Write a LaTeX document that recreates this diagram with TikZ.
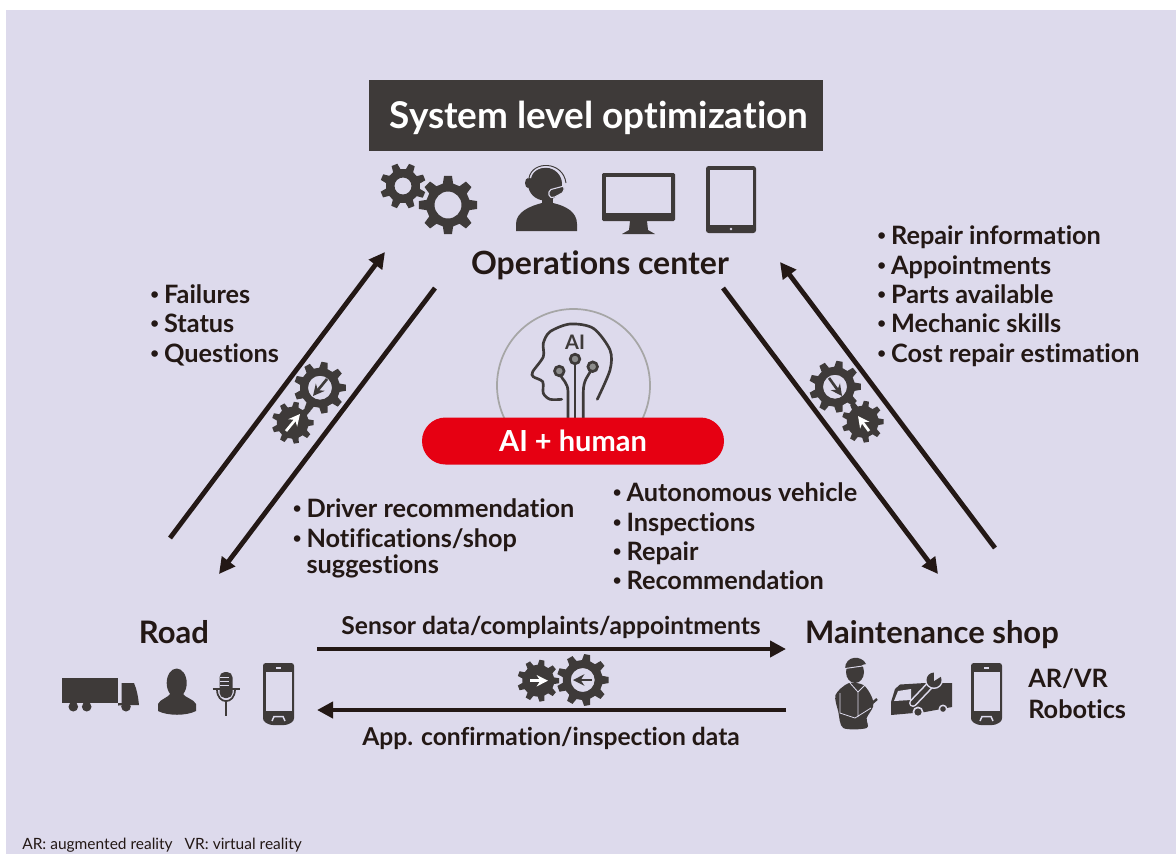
\documentclass[tikz,border=0pt]{standalone}
\usepackage{fontspec}
\usepackage{xcolor}
\usetikzlibrary{arrows.meta,positioning}
\setmainfont{Lato}[Ligatures=NoCommon]
\definecolor{lilacbg}{HTML}{DDDAEC}
\definecolor{icongrey}{HTML}{3E3A39}
\definecolor{flowblack}{HTML}{231815}
\definecolor{pillred}{HTML}{E60012}
\newlength{\pxu}
\setlength{\pxu}{0.75pt}
\newcommand{\blt}{\makebox[13.8\pxu][l]{\raisebox{3.5\pxu}{\fontsize{15\pxu}{15\pxu}\selectfont\textbullet}}}
\newcommand{\pxfont}[1]{\fontsize{#1\pxu}{1.2\dimexpr#1\pxu\relax}\selectfont}
% turn, centre, outer radius, root radius, hole radius, teeth
\newcommand{\gearat}[6][0]{%
    \pgfmathsetmacro{\gstep}{360/#6}
    \fill[icongrey, even odd rule, shift={(#2)}, rotate=#1] ({-0.30*\gstep}:#4)
        \foreach \k in {0,...,\numexpr#6-1\relax} {
            -- ({(\k-0.30)*\gstep}:#4) -- ({(\k-0.17)*\gstep}:#3)
            -- ({(\k+0.17)*\gstep}:#3) -- ({(\k+0.30)*\gstep}:#4)
        } -- cycle (0,0) circle[radius=#5];
}
% top left corner of the phone
\newcommand{\phoneat}[1]{%
    \begin{scope}[shift={(#1)}]
        \fill[icongrey, rounded corners=2pt] (0,0) -- (31,0) -- (31,58) -- (24,62) -- (7,62) -- (0,58) -- cycle;
        \fill[lilacbg] (2.7,9) rectangle (29.3,48);
        \fill[lilacbg] (12.5,4) rectangle (18,6.2);
        \draw[lilacbg, line width=1.1pt] (9,58) -- (11,53.5) -- (20,53.5) -- (22,58);
    \end{scope}
}
\tikzset{
    lbl/.style={anchor=west, inner sep=0pt, text=flowblack, text height=20\pxu, text depth=2\pxu, font=\pxfont{25.3}\bfseries},
    mid/.style={lbl, anchor=center},
    flow/.style={color=flowblack, line width=3.6pt, -{Triangle[length=12pt,width=12pt]}},
    innerarrow/.style={icongrey, line width=2pt, -{Stealth[length=8.5pt,width=8.5pt]}},
    whitearrow/.style={innerarrow, white},
    wire/.style={icongrey, line width=2pt},
}

\begin{document}
\begin{tikzpicture}[x=0.75pt, y=-0.75pt]
    \useasboundingbox (0,0) rectangle (1176,854);
    \fill[lilacbg] (6,10) rectangle (1176,854);

    % top
    \node[fill=icongrey, text=white, minimum width=340.5pt, minimum height=53.25pt, inner sep=0pt, text height=32\pxu, text depth=7\pxu, font=\pxfont{36.9}\bfseries] (sysopt) at (596,115.5) {\hspace*{6\pxu}System level optimization};
    \gearat[22]{403,186}{23}{17}{8.5}{8}
    \gearat{448,205}{29.5}{22}{13.5}{8}

    % operator
    \fill[icongrey] (516,231) -- (516,224) .. controls (516,212) and (530,206) .. (542,203) -- (553,203) .. controls (566,206) and (577,212) .. (577,224) -- (577,231) -- cycle;
    \fill[icongrey] (542,195) rectangle (553,206);
    \fill[icongrey] (545,184) ellipse[x radius=17, y radius=16.5];
    \draw[lilacbg, line width=1.6pt] (530,178) .. controls (533,162) and (562,162) .. (565,183);
    \draw[icongrey, line width=0.7pt] (529,178) .. controls (532,160.5) and (563,160.5) .. (566,183);
    \fill[icongrey] (528,183) ellipse[x radius=3, y radius=5];
    \fill[icongrey, draw=lilacbg, line width=0.8pt, rounded corners=1.5pt] (549,190) -- (564,186) -- (564,192) -- (553,198) -- (549,197) -- cycle;

    % monitor
    \fill[icongrey, rounded corners=1pt] (602,173) rectangle (675,221);
    \fill[lilacbg] (606,177) rectangle (671,213);
    \fill[icongrey] (630,221) -- (647,221) -- (648,230) -- (655,234) -- (622,234) -- (629,230) -- cycle;

    % tablet
    \fill[icongrey, rounded corners=2pt] (706,166) rectangle (756,233);
    \fill[lilacbg] (709.5,170) rectangle (753,225);
    \fill[lilacbg] (731,229) circle[radius=1.3];

    \node[mid, font=\pxfont{32}\bfseries] (opscenter) at (600,265) {Operations center};

    % ai head
    \draw[color=black!35, line width=1.3pt] (573.5,385.5) circle[radius=76.5];
    \draw[wire, line cap=round] plot[smooth] coordinates {
            (597.3,399.3) (610,370) (610,350) (593.3,328.3) (570,324) (550,331.7)
            (543.3,343.3) (543.3,356.7) (532.7,371.7) (533.3,376.7) (542.7,381.7)
            (543.3,393.3) (550,399.3) (561.7,399.3)
    };
    \draw[wire] (575,420) -- (575,362);
    \draw[wire] (568,420) -- (568,392) .. controls (568,382) and (562,380) .. (560,374);
    \draw[wire] (583.3,420) -- (583.3,392) .. controls (583.3,380) and (588,376) .. (592,369);
    \foreach \cx/\cy in {575/359, 559.3/371, 592.7/366.7} {
        \draw[wire, fill=black!45] (\cx,\cy) circle[radius=4.8];
    }
    \node[mid, text=icongrey, font=\pxfont{20}\bfseries] (ailabel) at (575,340) {AI};
    \node[fill=pillred, text=white, rounded corners=17.6pt, minimum width=226.5pt, minimum height=35.25pt, inner sep=0pt, font=\pxfont{29}\bfseries] (aihuman) at (573,441) {AI + human};

    % lists
    \node[lbl] (failures) at (150,294) {\blt Failures};
    \node[lbl] (status) at (150,323) {\blt Status};
    \node[lbl] (questions) at (150,353) {\blt Questions};
    \node[lbl] (repinfo) at (877,235) {\blt Repair information};
    \node[lbl] (appoint) at (877,265) {\blt Appointments};
    \node[lbl] (parts) at (877,294) {\blt Parts available};
    \node[lbl] (mechanic) at (877,323) {\blt Mechanic skills};
    \node[lbl] (cost) at (877,353) {\blt Cost repair estimation};
    \node[lbl] (driver) at (292.5,508) {\blt Driver recommendation};
    \node[lbl] (notif) at (292.5,538) {\blt Notifications/shop};
    \node[lbl] (suggest) at (306.3,564) {suggestions};
    \node[lbl] (autonomous) at (612.5,492) {\blt Autonomous vehicle};
    \node[lbl] (inspect) at (612.5,522) {\blt Inspections};
    \node[lbl] (repair) at (612.5,551) {\blt Repair};
    \node[lbl] (recomm) at (612.5,580) {\blt Recommendation};

    % end points
    \coordinate (a1) at (170,538);
    \coordinate (a2) at (385,252);
    \coordinate (b1) at (435,288);
    \coordinate (b2) at (219,574);
    \coordinate (c1) at (995,548);
    \coordinate (c2) at (780,262);
    \coordinate (d1) at (723,288);
    \coordinate (d2) at (938,574);
    \coordinate (e1) at (317,649);
    \coordinate (e2) at (786,649);
    \coordinate (f1) at (786,710);
    \coordinate (f2) at (317,710);
    \draw[flow] (a1) -- (a2);
    \draw[flow] (b1) -- (b2);
    \draw[flow] (c1) -- (c2);
    \draw[flow] (d1) -- (d2);
    \draw[flow] (e1) -- (e2);
    \draw[flow] (f1) -- (f2);

    % gears on the arrows
    \gearat{320,387.7}{26}{20}{12}{9}
    \gearat{292.7,422.7}{21}{16}{0}{9}
    \draw[innerarrow] (327,379) -- (313,396);
    \draw[whitearrow] (286,431) -- (300,414);
    \gearat{835,386.7}{26}{20}{12}{9}
    \gearat{862.7,421.7}{21}{16}{0}{9}
    \draw[innerarrow] (829,378) -- (842,396);
    \draw[whitearrow] (869,431) -- (858,416);
    \gearat{538.3,680.7}{21}{16}{0}{9}
    \gearat{582.7,680}{26}{20}{12}{9}
    \draw[whitearrow] (530,680.7) -- (548,680.7);
    \draw[innerarrow] (592,680) -- (573,680);

    \node[mid, font=\pxfont{31}\bfseries] (road) at (174,634) {Road};
    \node[mid, font=\pxfont{31}\bfseries] (shop) at (932,634) {Maintenance shop};
    \node[mid, font=\pxfont{24.6}\bfseries] (sensor) at (551,625) {Sensor data/complaints/appointments};
    \node[mid, font=\pxfont{24.6}\bfseries] (confirm) at (551,736) {App. confirmation/inspection data};
    \node[lbl] (arvr) at (1028,678) {AR/VR};
    \node[lbl] (robotics) at (1028,709) {Robotics};
    \node[lbl, text height=12\pxu, font=\pxfont{15.5}] (footnote) at (22,844) {AR: augmented reality\hspace{12\pxu}VR: virtual reality};

    % truck
    \fill[icongrey] (61.7,678) rectangle (118.3,703);
    \fill[icongrey] (118,703) -- (121.7,703) -- (121.7,683) -- (134,683) .. controls (137,690) and (138,696) .. (139,705) -- (118,705.5) -- cycle;
    \foreach \wx in {73.3, 86.7, 126} {
        \fill[icongrey] (\wx,706.7) circle[radius=4.8];
    }

    % driver
    \fill[icongrey] (176.7,683) ellipse[x radius=10, y radius=14.5];
    \fill[icongrey] (158,711) -- (158,704) .. controls (160,699) and (168,698) .. (171,693) -- (182,693) .. controls (185,698) and (194,699) .. (196,704) -- (196,711) .. controls (186,716) and (168,716) .. (158,711) -- cycle;

    % microphone
    \fill[icongrey, rounded corners=4pt] (219.5,672) rectangle (232.5,698);
    \draw[lilacbg, line width=0.9pt] (220,677.5) -- (229,677.5) (220,681.5) -- (229,681.5) (220,685.5) -- (229,685.5);
    \draw[icongrey, line width=1.3pt] (212.5,689.3) -- (240,689.3);
    \draw[icongrey, line width=1.3pt] (226,702) -- (226,716);
    \draw[icongrey, line width=1.3pt] (217,689.3) .. controls (217,705) and (235,705) .. (235,689.3);

    \phoneat{263,663}
    \phoneat{971,663}

    % mechanic
    \fill[icongrey] plot[smooth cycle] coordinates {
            (835.5,695) (848.3,683.3) (863.3,685) (871.7,696.7) (873,706.7)
            (866.7,718) (866.7,728) (843.3,728) (838.3,711.7)
    };
    \fill[icongrey] (855,672) ellipse[x radius=9, y radius=11];
    \fill[icongrey] (845,669) .. controls (845,655) and (862,655) .. (866,664) -- cycle;
    \draw[lilacbg, line width=0.7pt] (845,668.5) -- (866,665.5);
    \draw[lilacbg, line width=0.6pt] (850,683) -- (858,692) -- (865,685) (858,692) -- (858,717) (840,693) -- (840,713) -- (855,718) -- (871,708);
    \draw[icongrey, line width=1.8pt] (870,705) -- (877,699);

    % van
    \fill[icongrey] (891,702) -- (895,689) -- (900,684.5) -- (925,683) -- (952,683) -- (952,707) -- (925,712) -- (891,715) -- cycle;
    \fill[lilacbg] (894,701) -- (898,691) -- (911,689) -- (911,700) -- cycle;
    \fill[lilacbg] (918,712) circle[radius=5.5];
    \fill[icongrey] (918,712) circle[radius=3.6];
    \fill[lilacbg] (943,709) circle[radius=4.5];
    \fill[icongrey] (943,709) circle[radius=2.8];
    \draw[lilacbg, line width=6pt, line cap=round] (913,703) -- (933,682);
    \draw[icongrey, line width=3.6pt, line cap=round] (913,703) -- (933,682);
    \fill[lilacbg] (934,680) circle[radius=9];
    \fill[icongrey] (934,680) circle[radius=7.5];
    \fill[lilacbg] (934,681) -- (934,670) -- (945,674) -- cycle;
\end{tikzpicture}
\end{document}
